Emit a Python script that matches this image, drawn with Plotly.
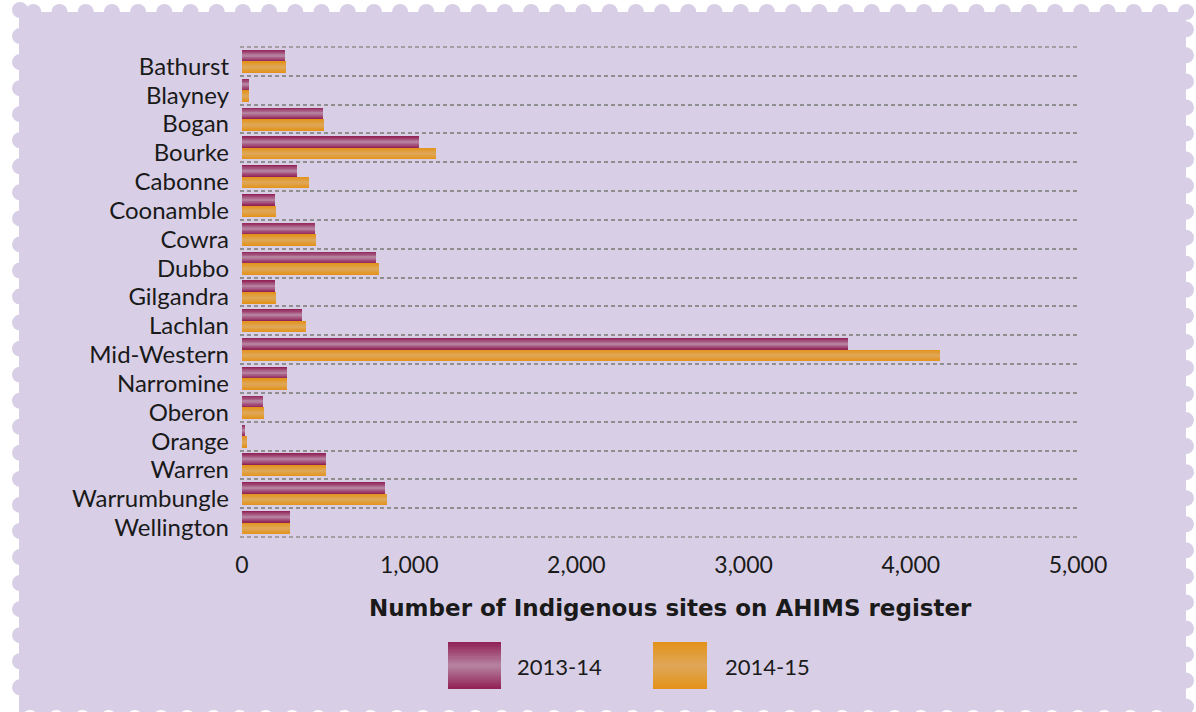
import plotly.graph_objects as go

# ---- data -------------------------------------------------------------
lgas = ["Bathurst", "Blayney", "Bogan", "Bourke", "Cabonne", "Coonamble",
        "Cowra", "Dubbo", "Gilgandra", "Lachlan", "Mid-Western", "Narromine",
        "Oberon", "Orange", "Warren", "Warrumbungle", "Wellington"]
sites_2013_14 = [255, 42, 484, 1059, 329, 197, 437, 801, 197, 359, 3624,
                 269, 126, 18, 502, 855, 287]
sites_2014_15 = [262, 42, 490, 1160, 401, 203, 443, 819, 203, 383, 4175,
                 270, 132, 30, 502, 867, 287]
series_names = ["2013-14", "2014-15"]
x_ticks = [0, 1000, 2000, 3000, 4000, 5000]

# ---- page geometry (pixels) -------------------------------------------
W, H = 1196, 712
PL, PR, PT, PB = 240, 1078, 47, 537          # plot area
FONT = "Lato"
TITLE_FONT = "DejaVu Sans"
LAV = "#d8cfe6"
TXT = "#1a1a1a"
GRID = "#8f8f8f"
DASH = "4px,3px"

# edge / centre colours for the cylinder-style shading
SHADES = [("#922458", "#b98aa6"), ("#e3931b", "#dfa85c")]
LAYERS = 10
BAR_W = 0.40


def mix(c1, c2, t):
    a = [int(c1[i:i + 2], 16) for i in (1, 3, 5)]
    b = [int(c2[i:i + 2], 16) for i in (1, 3, 5)]
    return "#" + "".join(f"{round(a[j] + (b[j] - a[j]) * t):02x}" for j in range(3))


def px_x(p):
    return (p - PL) / (PR - PL)


def px_y(p):
    return 1 - (p - PT) / (PB - PT)


fig = go.Figure()

# shaded bars: same values drawn as nested, progressively lighter layers
for s, (vals, name) in enumerate(zip([sites_2013_14, sites_2014_15], series_names)):
    edge, centre = SHADES[s]
    mid = -BAR_W / 2 if s == 0 else BAR_W / 2
    for k in range(LAYERS):
        t = k / LAYERS
        w = BAR_W * (1 - t)
        fig.add_trace(go.Bar(
            y=lgas, x=vals, orientation="h", name=name,
            width=w, offset=mid - w / 2,
            marker=dict(color=mix(edge, centre, t), line=dict(width=0)),
            showlegend=False,
            hoverinfo="x+name" if k == 0 else "skip",
        ))

shapes = []


def circ(cx, cy, r, color):
    shapes.append(dict(type="circle", xref="paper", yref="paper", layer="below",
                       x0=px_x(cx - r), x1=px_x(cx + r),
                       y0=px_y(cy + r), y1=px_y(cy - r),
                       fillcolor=color, line=dict(width=0)))


def rect(x0, y0, x1, y1, color, layer="below"):
    shapes.append(dict(type="rect", xref="paper", yref="paper", layer=layer,
                       x0=px_x(x0), x1=px_x(x1), y0=px_y(y1), y1=px_y(y0),
                       fillcolor=color, line=dict(width=0)))


# perforated stamp-style panel
rect(19, 12, 1186, 730, LAV)
R = 8
k = 0
while 33.3 + 26.2 * k <= 1188:
    circ(33.3 + 26.2 * k, 12, R, LAV)
    k += 1
k = 0
while 10 + 26.05 * k <= 712:
    circ(20, 10 + 26.05 * k, R, LAV)
    k += 1
k = 0
while 29.3 + 26.05 * k <= 712:
    circ(1186, 29.3 + 26.05 * k, R, LAV)
    k += 1
k = 0
while 30 + 26.2 * k <= 1180:
    circ(30 + 26.2 * k, 718, R, "#ffffff")
    k += 1

# outer dashed rules closing the category bands
for yp in (0, 1):
    shapes.append(dict(type="line", xref="paper", yref="paper", layer="below",
                       x0=0, x1=1, y0=yp, y1=yp,
                       line=dict(color=GRID, width=1.5, dash=DASH)))

# legend swatches with the same shading
legend_items = [(448, 501, 515), (653, 707, 723)]
for s, (x0, x1, tx) in enumerate(legend_items):
    edge, centre = SHADES[s]
    y0, y1 = 642, 689
    cy, hh = (y0 + y1) / 2, (y1 - y0) / 2
    for k in range(LAYERS):
        t = k / LAYERS
        h = hh * (1 - t)
        rect(x0, cy - h, x1, cy + h, mix(edge, centre, t), layer="above")

annotations = [
    dict(text="Number of Indigenous sites on AHIMS register",
         x=px_x(670), y=px_y(608), xref="paper", yref="paper",
         xanchor="center", yanchor="middle", showarrow=False,
         font=dict(family=TITLE_FONT, size=23, color=TXT, weight="bold")),
]
for s, (x0, x1, tx) in enumerate(legend_items):
    annotations.append(dict(text=series_names[s], x=px_x(tx), y=px_y(666),
                            xref="paper", yref="paper", xanchor="left",
                            yanchor="middle", showarrow=False,
                            font=dict(family=FONT, size=22, color=TXT)))

fig.update_layout(
    width=W, height=H,
    margin=dict(l=PL, r=W - PR, t=PT, b=H - PB, pad=0),
    paper_bgcolor="#ffffff", plot_bgcolor="rgba(0,0,0,0)",
    barmode="overlay", bargap=0,
    font=dict(family=FONT, color=TXT),
    shapes=shapes, annotations=annotations,
    xaxis=dict(range=[-12, 5000], tickvals=x_ticks, tickformat=",d",
               showgrid=False, zeroline=False, showline=False, ticks="",
               tickfont=dict(size=23, family=FONT, color=TXT),
               ticklabelstandoff=12),
    yaxis=dict(type="category", range=[16.5, -0.5], tickson="boundaries",
               tickmode="linear", tick0=0, dtick=1,
               showgrid=True, gridcolor=GRID, gridwidth=1.5,
               griddash=DASH, zeroline=False, showline=False, ticks="",
               tickfont=dict(size=24, family=FONT, color=TXT),
               ticklabelstandoff=10, ticklabelshift=-5),
    showlegend=False,
)

fig.write_html("out.html")
